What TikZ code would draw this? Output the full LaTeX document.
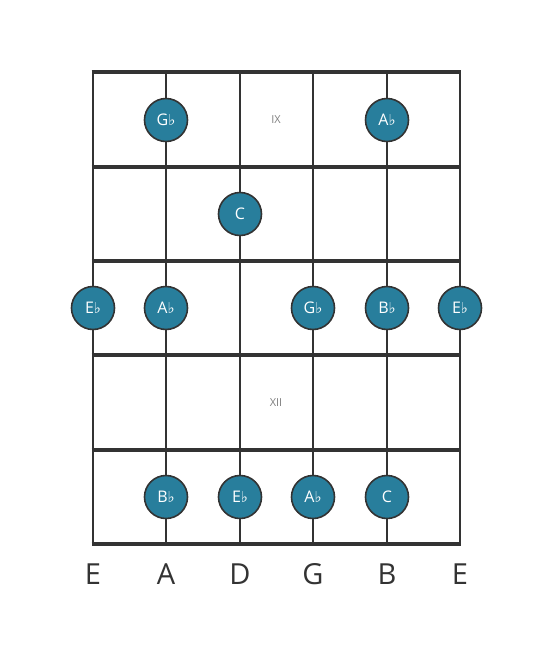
\documentclass[tikz,border=0pt]{standalone}
\usepackage{fontspec}
\setmainfont{Open Sans}
\newfontfamily\flatfont{DejaVu Sans}
\usepackage{tikz}
\definecolor{fretline}{RGB}{51,51,51}
\definecolor{notefill}{RGB}{40,126,156}
\newcommand{\fl}{{\flatfont\fontsize{15}{15}\selectfont ♭}}

\begin{document}
\begin{tikzpicture}[x=1pt,y=-1pt,
  fret/.style={draw=fretline, line width=3.6pt},
  gstring/.style={draw=fretline, line width=2.6pt},
  note/.style={circle, draw=fretline, line width=1.6pt, fill=notefill,
    minimum size=43pt, inner sep=0pt, text=white, font=\fontsize{16}{16}\selectfont},
  position/.style={text=gray, font=\fontsize{11}{11}\selectfont},
  strname/.style={text=fretline, font=\fontsize{29}{29}\selectfont}]

\useasboundingbox (0,0) rectangle (553,656);

% Strings and frets
\foreach \x [count=\i] in {93,166,240,313,387,460}
  \draw[gstring] (\x,72) -- (\x,544);
\foreach \y in {72,167,261,355,450,544}
  \draw[fret] (91.7,\y) -- (461.3,\y);

% Position markers
\node[position] (ix) at (276,120) {IX};
\node[position] (xii) at (276,403) {XII};

% Notes
\node[note] (gb1) at (166,120) {G\fl};
\node[note] (ab1) at (387,120) {A\fl};
\node[note] (c2) at (240,214) {C};
\node[note] (eb3) at (93,308) {E\fl};
\node[note] (ab3) at (166,308) {A\fl};
\node[note] (gb3) at (313,308) {G\fl};
\node[note] (bb3) at (387,308) {B\fl};
\node[note] (eb3b) at (460,308) {E\fl};
\node[note] (bb5) at (166,497) {B\fl};
\node[note] (eb5) at (240,497) {E\fl};
\node[note] (ab5) at (313,497) {A\fl};
\node[note] (c5) at (387,497) {C};

% String names
\foreach \x/\s [count=\i] in {93/E,166/A,240/D,313/G,387/B,460/E}
  \node[strname] (name\i) at (\x,574) {\s};

\end{tikzpicture}
\end{document}
